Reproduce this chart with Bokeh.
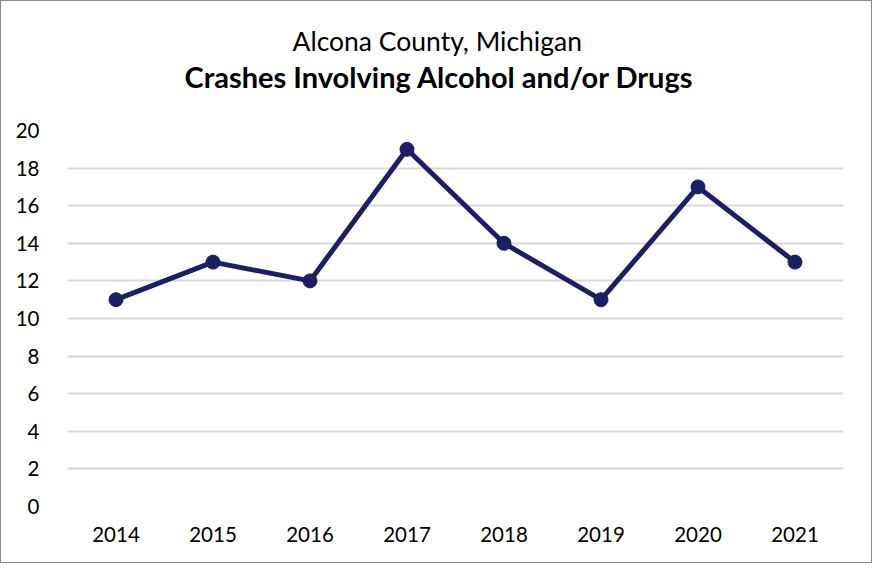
from bokeh.plotting import figure
from bokeh.models import Title, FactorRange
from bokeh.embed import file_html
from bokeh.resources import INLINE

years = ["2014", "2015", "2016", "2017", "2018", "2019", "2020", "2021"]
crashes = [11, 13, 12, 19, 14, 11, 17, 13]
y_ticks = [0, 2, 4, 6, 8, 10, 12, 14, 16, 18, 20]
subtitle = "Alcona County, Michigan"
title = "Crashes Involving Alcohol and/or Drugs"

FONT = "Lato"
NAVY = "#1b1f63"

p = figure(x_range=FactorRange(*years, range_padding=0), y_range=(0, 20),
           width=872, height=563, output_backend="svg", toolbar_location=None,
           min_border_left=66, min_border_right=30, min_border_top=129, min_border_bottom=58)

# outermost: subtitle line (left-aligned with an offset so it is centred on the figure)
p.title.text = subtitle
p.title.align = "left"
p.title.text_font = FONT
p.title.text_font_style = "normal"
p.title.text_font_size = "26.5px"
p.title.text_color = "#000000"
p.title.standoff = 0
p.title.offset = 225

# nearest the frame: an empty spacer, then the bold title above it
spacer = Title(text=" ", text_font_size="1px", standoff=34)
p.add_layout(spacer, "above")
main = Title(text=title, align="left", text_font=FONT, text_font_style="bold",
             text_font_size="29px", text_color="#000000", standoff=0, offset=117)
p.add_layout(main, "above")

p.line(years, crashes, line_color=NAVY, line_width=5)
p.scatter(years, crashes, size=14, fill_color=NAVY, line_color=NAVY)

p.yaxis.ticker = y_ticks
p.xgrid.grid_line_color = None
p.ygrid.grid_line_color = "#d9d9d9"
p.ygrid.grid_line_width = 2
p.outline_line_color = None

for ax in (p.xaxis, p.yaxis):
    ax.axis_line_color = None
    ax.major_tick_line_color = None
    ax.minor_tick_line_color = None
    ax.major_label_text_font = FONT
    ax.major_label_text_font_size = "20.5px"
    ax.major_label_text_color = "#000000"
p.yaxis.major_label_standoff = 22
p.xaxis.major_label_standoff = 14

p.styles = {"border": "1px solid #8c8c8c", "box-sizing": "border-box"}

open("out.html", "w").write(file_html(p, INLINE))
